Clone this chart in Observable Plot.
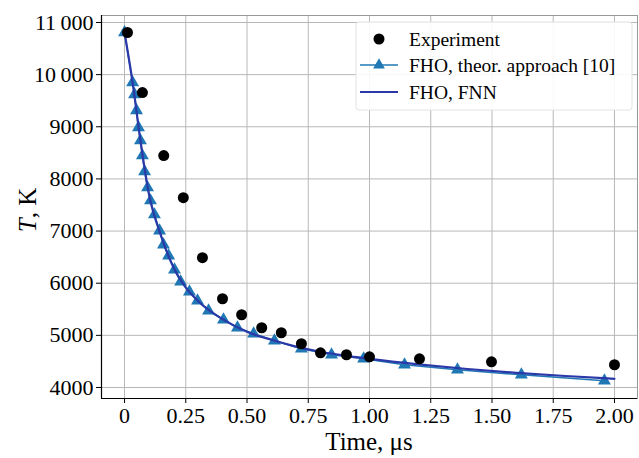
<!DOCTYPE html>
<html><head><meta charset="utf-8">
<script src="https://cdn.jsdelivr.net/npm/d3@7"></script>
<script src="https://cdn.jsdelivr.net/npm/@observablehq/plot@0.6"></script>
<style>body{margin:0;background:#fff}</style>
</head><body><div id="chart"></div>
<script>
const expTime = [0.012, 0.073, 0.16, 0.24, 0.318, 0.40, 0.478, 0.56, 0.64, 0.722, 0.80, 0.906, 1.0, 1.204, 1.498, 2.0];
const expT    = [10808, 9656, 8447, 7641, 6489, 5702, 5395, 5146, 5050, 4839, 4666, 4628, 4589, 4551, 4493, 4436];

const theorTime = [0, 0.033, 0.041, 0.049, 0.057, 0.065, 0.073, 0.082, 0.094, 0.106, 0.122, 0.143, 0.159, 0.180, 0.204, 0.229, 0.265, 0.298, 0.343, 0.404, 0.461, 0.527, 0.612, 0.722, 0.845, 0.976, 1.143, 1.359, 1.620, 1.959];
const theorT    = [10808, 9848, 9618, 9311, 8985, 8735, 8447, 8140, 7833, 7584, 7315, 7008, 6739, 6528, 6259, 6029, 5837, 5664, 5472, 5300, 5146, 5031, 4896, 4743, 4628, 4551, 4436, 4340, 4244, 4129];

const fnnTime = [0, 0.033, 0.065, 0.1, 0.15, 0.2, 0.25, 0.3, 0.4, 0.5, 0.6, 0.7, 0.8, 0.9, 1.0, 1.2, 1.4, 1.6, 1.8, 2.0];
const fnnT    = [10808, 9848, 8735, 7700, 6900, 6300, 5920, 5660, 5310, 5070, 4915, 4785, 4685, 4610, 4550, 4445, 4355, 4280, 4220, 4167];

const xTicks = [0, 0.25, 0.5, 0.75, 1.0, 1.25, 1.5, 1.75, 2.0];
const xTickLabels = ["0", "0.25", "0.50", "0.75", "1.00", "1.25", "1.50", "1.75", "2.00"];
const yTicks = [4000, 5000, 6000, 7000, 8000, 9000, 10000, 11000];
const yTickLabels = ["4000", "5000", "6000", "7000", "8000", "9000", "10\u2009000", "11\u2009000"];

const legendLabels = ["Experiment", "FHO, theor. approach [10]", "FHO, FNN"];

const exp = expTime.map((t, i) => ({t, T: expT[i]}));
const theor = theorTime.map((t, i) => ({t, T: theorT[i]}));
const fnn = fnnTime.map((t, i) => ({t, T: fnnT[i]}));

const C_THEOR = "#1f77b4", C_FNN = "#2a38a8", GRID = "#b8b8b8";
const FONT = "Liberation Serif";

const W = 639, H = 458, mL = 101, mR = 2, mT = 15, mB = 60;

const plot = Plot.plot({
  width: W, height: H,
  marginLeft: mL, marginRight: mR, marginTop: mT, marginBottom: mB,
  style: {fontFamily: FONT, fontSize: "22px", color: "#000", background: "#fff"},
  x: {domain: [-0.094, 2.094], label: null},
  y: {domain: [3789, 11134], label: null},
  marks: [
    Plot.gridX(xTicks, {stroke: GRID, strokeOpacity: 1, strokeWidth: 1}),
    Plot.gridY(yTicks, {stroke: GRID, strokeOpacity: 1, strokeWidth: 1}),
    Plot.frame({stroke: "#999", strokeWidth: 1}),
    Plot.axisX({ticks: xTicks, tickFormat: (d) => xTickLabels[xTicks.indexOf(d)], tickSize: 5, tickPadding: 4, fontSize: 22, label: null}),
    Plot.axisY({ticks: yTicks, tickFormat: (d) => yTickLabels[yTicks.indexOf(d)], tickSize: 5, tickPadding: 3, fontSize: 22, label: null}),
    Plot.ruleX([-0.094], {stroke: "#000", strokeWidth: 1.2}),
    Plot.ruleY([3789], {stroke: "#000", strokeWidth: 1.2}),
    Plot.line(theor, {x: "t", y: "T", stroke: C_THEOR, strokeWidth: 1.5}),
    Plot.dot(theor, {x: "t", y: "T", symbol: "triangle", r: 4.8, fill: C_THEOR, stroke: "none"}),
    Plot.line(fnn, {x: "t", y: "T", stroke: C_FNN, strokeWidth: 2.2, curve: "monotone-x"}),
    Plot.dot(exp, {x: "t", y: "T", r: 5.5, fill: "#000", stroke: "none"})
  ]
});

const svg = d3.select(plot);
// axis titles
svg.append("text").attr("x", 369).attr("y", 450).attr("text-anchor", "middle")
  .attr("font-family", FONT).attr("font-size", 25).attr("fill", "#000").text("Time, \u03bcs");
const yl = svg.append("text").attr("transform", "translate(36,210) rotate(-90)").attr("text-anchor", "middle")
  .attr("font-family", FONT).attr("font-size", 25).attr("fill", "#000");
yl.append("tspan").attr("font-style", "italic").text("T");
yl.append("tspan").text(", K");

// legend
const lg = svg.append("g").attr("text-anchor", "start");
lg.append("rect").attr("x", 356).attr("y", 22).attr("width", 276).attr("height", 88).attr("rx", 3)
  .attr("fill", "#fff").attr("fill-opacity", 0.9).attr("stroke", "#e2e2e2");
const rows = [39, 65, 92];
lg.append("circle").attr("cx", 379).attr("cy", rows[0]).attr("r", 5.5).attr("fill", "#000");
lg.append("line").attr("x1", 360).attr("x2", 398).attr("y1", rows[1]).attr("y2", rows[1]).attr("stroke", C_THEOR).attr("stroke-width", 1.5);
lg.append("path").attr("d", d3.symbol(d3.symbolTriangle, 60)()).attr("transform", `translate(379,${rows[1]})`).attr("fill", C_THEOR);
lg.append("line").attr("x1", 360).attr("x2", 398).attr("y1", rows[2]).attr("y2", rows[2]).attr("stroke", C_FNN).attr("stroke-width", 2);
legendLabels.forEach((s, i) => {
  lg.append("text").attr("x", 409).attr("y", rows[i]).attr("dy", "0.35em").attr("text-anchor", "start")
    .attr("font-family", FONT).attr("font-size", 19.5).attr("fill", "#000").text(s);
});

document.getElementById("chart").appendChild(plot);
</script>
</body></html>
